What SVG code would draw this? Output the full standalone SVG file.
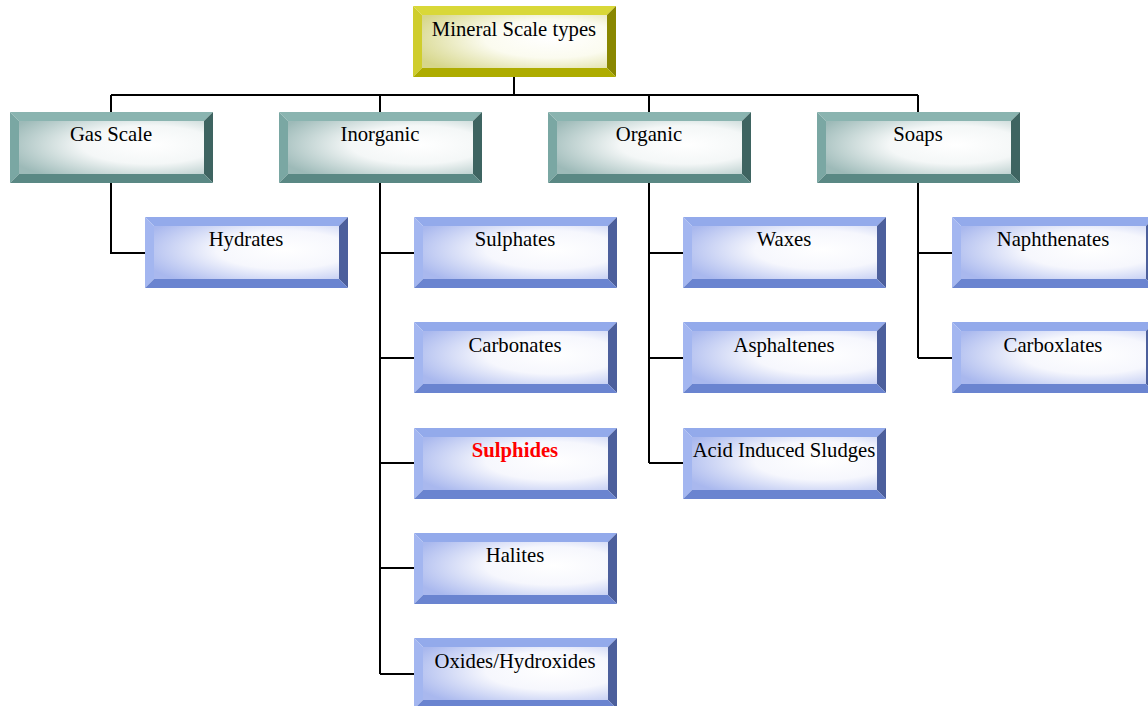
<svg xmlns="http://www.w3.org/2000/svg" xmlns:xlink="http://www.w3.org/1999/xlink" width="1148" height="706" viewBox="0 0 1148 706">
<style>
text{font-family:"Liberation Serif","Times New Roman",serif;font-size:20.7px;fill:#000;text-anchor:middle}
.red{fill:#ff0000;font-weight:bold}
.conn{fill:none;stroke:#000;stroke-width:2}
</style>
<defs>
<radialGradient id="fb" cx="0.7" cy="0.45" r="0.8">
<stop offset="0" stop-color="#ffffff"/><stop offset="0.45" stop-color="#f6f7fd"/><stop offset="1" stop-color="#a9b8ee"/>
</radialGradient>
<radialGradient id="ft" cx="0.7" cy="0.45" r="0.8">
<stop offset="0" stop-color="#ffffff"/><stop offset="0.45" stop-color="#f4f7f7"/><stop offset="1" stop-color="#9dbab8"/>
</radialGradient>
<radialGradient id="fy" cx="0.7" cy="0.45" r="0.8">
<stop offset="0" stop-color="#ffffff"/><stop offset="0.45" stop-color="#fbfbef"/><stop offset="1" stop-color="#d6d68a"/>
</radialGradient>
<g id="blue">
<rect x="9" y="9" width="185" height="53" fill="url(#fb)"/>
<polygon points="0,0 203,0 194,9 9,9" fill="#93aaeb"/>
<polygon points="0,0 9,9 9,62 0,71" fill="#a3b6f0"/>
<polygon points="203,0 203,71 194,62 194,9" fill="#4c5f9c"/>
<polygon points="0,71 9,62 194,62 203,71" fill="#6a84d0"/>
</g>
<g id="teal">
<rect x="9" y="9" width="185" height="53" fill="url(#ft)"/>
<polygon points="0,0 203,0 194,9 9,9" fill="#8ab4b0"/>
<polygon points="0,0 9,9 9,62 0,71" fill="#7aa7a3"/>
<polygon points="203,0 203,71 194,62 194,9" fill="#3e6461"/>
<polygon points="0,71 9,62 194,62 203,71" fill="#5a8884"/>
</g>
<g id="yellow">
<rect x="9" y="9" width="185" height="53" fill="url(#fy)"/>
<polygon points="0,0 203,0 194,9 9,9" fill="#d9d838"/>
<polygon points="0,0 9,9 9,62 0,71" fill="#cfcd2c"/>
<polygon points="203,0 203,71 194,62 194,9" fill="#898700"/>
<polygon points="0,71 9,62 194,62 203,71" fill="#aeac00"/>
</g>
</defs>
<rect width="1148" height="706" fill="#ffffff"/>
<g id="connectors" class="conn">
<path d="M514,77 V95 M111,95 H918 M111,95 V112 M380,95 V112 M649,95 V112 M918,95 V112"/>
<path d="M111,183 V253 H145"/>
<path d="M380,183 V674 M380,253 H414 M380,358 H414 M380,463 H414 M380,568 H414 M380,674 H414"/>
<path d="M649,183 V463 M649,253 H683 M649,358 H683 M649,463 H683"/>
<path d="M918,183 V358 M918,253 H952 M918,358 H952"/>
</g>
<g id="n-root"><use xlink:href="#yellow" x="413" y="6"/><text x="514" y="36">Mineral Scale types</text></g>
<g id="n-gas"><use xlink:href="#teal" x="10" y="112"/><text x="111" y="141">Gas Scale</text></g>
<g id="n-inorganic"><use xlink:href="#teal" x="279" y="112"/><text x="380" y="141">Inorganic</text></g>
<g id="n-organic"><use xlink:href="#teal" x="548" y="112"/><text x="649" y="141">Organic</text></g>
<g id="n-soaps"><use xlink:href="#teal" x="817" y="112"/><text x="918" y="141">Soaps</text></g>
<g id="n-hydrates"><use xlink:href="#blue" x="145" y="217"/><text x="246" y="246">Hydrates</text></g>
<g id="n-sulphates"><use xlink:href="#blue" x="414" y="217"/><text x="515" y="246">Sulphates</text></g>
<g id="n-carbonates"><use xlink:href="#blue" x="414" y="322"/><text x="515" y="352">Carbonates</text></g>
<g id="n-sulphides"><use xlink:href="#blue" x="414" y="428"/><text class="red" x="515" y="457">Sulphides</text></g>
<g id="n-halites"><use xlink:href="#blue" x="414" y="533"/><text x="515" y="562">Halites</text></g>
<g id="n-oxides"><use xlink:href="#blue" x="414" y="638"/><text x="515" y="668">Oxides/Hydroxides</text></g>
<g id="n-waxes"><use xlink:href="#blue" x="683" y="217"/><text x="784" y="246">Waxes</text></g>
<g id="n-asphaltenes"><use xlink:href="#blue" x="683" y="322"/><text x="784" y="352">Asphaltenes</text></g>
<g id="n-acid"><use xlink:href="#blue" x="683" y="428"/><text x="784" y="457">Acid Induced Sludges</text></g>
<g id="n-naphthenates"><use xlink:href="#blue" x="952" y="217"/><text x="1053" y="246">Naphthenates</text></g>
<g id="n-carboxlates"><use xlink:href="#blue" x="952" y="322"/><text x="1053" y="352">Carboxlates</text></g>
</svg>
